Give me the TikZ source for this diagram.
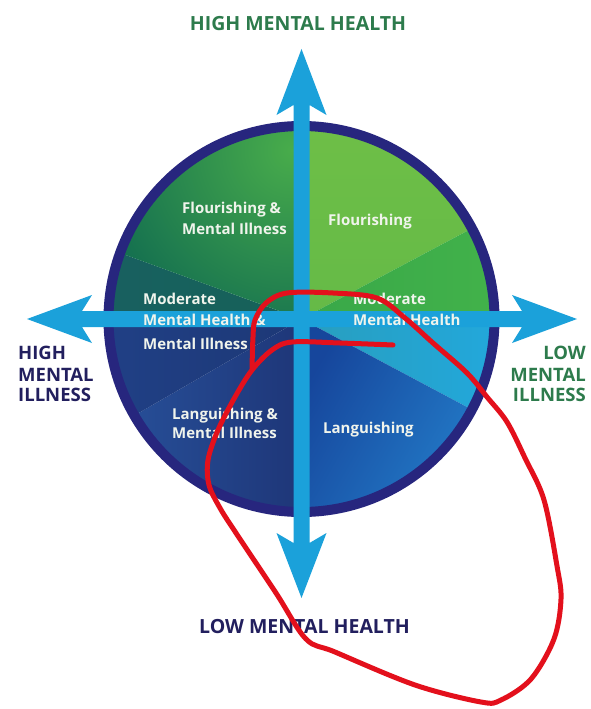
\documentclass[tikz,border=0pt]{standalone}
\usepackage{fontspec}
\setmainfont{Open Sans}
\definecolor{ringc}{HTML}{27267E}
\definecolor{arrowc}{HTML}{1BA1DA}
\definecolor{greentext}{HTML}{2D7B4C}
\definecolor{navytext}{HTML}{221F5E}
\definecolor{intext}{HTML}{F0F4EC}
\definecolor{scribble}{HTML}{E3101C}
\newcommand{\sectorpath}[2]{(C) -- ++(#1:190) arc[start angle=#1, end angle=#2, radius=190] -- cycle}
\begin{document}
\begin{tikzpicture}[x=1pt,y=-1pt,
  inlabel/.style={inner sep=0pt, anchor=base west, text=intext, font=\fontsize{15}{15}\selectfont\bfseries},
  outlabel/.style={inner sep=0pt, font=\fontsize{19.5}{19.5}\selectfont\bfseries},
  sidelabel/.style={inner sep=0pt, font=\fontsize{18.5}{18.5}\selectfont\bfseries}]
\useasboundingbox (0,0) rectangle (590,709);
\fill[white] (0,0) rectangle (590,709);
\coordinate (C) at (301.5,319);
% visual 28..90  Flourishing
\begin{scope}\clip \sectorpath{-28}{-90};
\shade[top color={rgb,255:red,110;green,191;blue,71}, bottom color={rgb,255:red,92;green,181;blue,70}] (C) circle (200);
\end{scope}
% visual 0..28
\begin{scope}\clip \sectorpath{0}{-28};
\shade[left color={rgb,255:red,48;green,158;blue,72}, right color={rgb,255:red,66;green,178;blue,74}] (111,121) rectangle (501,319);
\end{scope}
% visual -28..0
\begin{scope}\clip \sectorpath{28}{0};
\shade[left color={rgb,255:red,40;green,158;blue,190}, right color={rgb,255:red,34;green,168;blue,220}] (301,319) rectangle (501,430);
\end{scope}
% visual -90..-28 Languishing
\begin{scope}\clip \sectorpath{90}{28};
\shade[left color={rgb,255:red,22;green,70;blue,156}, right color={rgb,255:red,36;green,128;blue,204}, shading angle=60] (301,319) rectangle (501,519);
\end{scope}
% visual 210..270 Languishing & MI
\begin{scope}\clip \sectorpath{-210}{-270};
\shade[left color={rgb,255:red,40;green,82;blue,156}, right color={rgb,255:red,30;green,54;blue,120}] (101,319) rectangle (302,519);
\end{scope}
% visual 180..210
\begin{scope}\clip \sectorpath{-180}{-210};
\shade[left color={rgb,255:red,32;green,64;blue,134}, right color={rgb,255:red,29;green,56;blue,118}] (101,319) rectangle (302,430);
\end{scope}
% visual 160..180
\begin{scope}\clip \sectorpath{-160}{-180};
\shade[left color={rgb,255:red,24;green,96;blue,96}, right color={rgb,255:red,22;green,98;blue,88}] (101,240) rectangle (302,320);
\end{scope}
% visual 90..160 Flourishing & MI
\begin{scope}\clip \sectorpath{-90}{-160};
\shade[inner color={rgb,255:red,72;green,172;blue,75}, outer color={rgb,255:red,17;green,108;blue,80}] (292,150) circle (210);
\end{scope}
% outer ring
\draw[ringc, line width=10pt] (C) circle (193);
% arrows
\fill[arrowc] (301.5,49) -- (326.5,115) -- (309.5,105) -- (309.5,543) -- (326.5,533) -- (301.5,598)
  -- (276.5,533) -- (293.5,543) -- (293.5,105) -- (276.5,115) -- cycle;
\fill[arrowc] (27,319) -- (92,295) -- (82,311) -- (522,311) -- (512,295) -- (577,319)
  -- (512,343) -- (522,327) -- (82,327) -- (92,343) -- cycle;
% inner labels
\node[inlabel] (fmi1) at (182,213) {Flourishing \&};
\node[inlabel] (fmi2) at (182,234) {Mental Illness};
\node[inlabel] (fl) at (328,225) {Flourishing};
\node[inlabel] (mml1) at (143,304) {Moderate};
\node[inlabel] (mml2) at (143,325) {Mental Health \&};
\node[inlabel] (mml3) at (143,349) {Mental Illness};
\node[inlabel] (mmh1) at (353,304) {Moderate};
\node[inlabel] (mmh2) at (353,325) {Mental Health};
\node[inlabel] (lmi1) at (172,419) {Languishing \&};
\node[inlabel] (lmi2) at (172,438) {Mental Illness};
\node[inlabel] (lang) at (323,433) {Languishing};
% outer labels
\node[outlabel, text=greentext, anchor=base] (hmh) at (298,31) {HIGH MENTAL HEALTH};
\node[outlabel, text=navytext, anchor=base] (lmh) at (304.5,633) {LOW MENTAL HEALTH};
\node[sidelabel, text=navytext, anchor=base west] (hmi1) at (18,359) {HIGH};
\node[sidelabel, text=navytext, anchor=base west] (hmi2) at (18,381) {MENTAL};
\node[sidelabel, text=navytext, anchor=base west] (hmi3) at (18,401) {ILLNESS};
\node[sidelabel, text=greentext, anchor=base east] (lmi1o) at (586,359) {LOW};
\node[sidelabel, text=greentext, anchor=base east] (lmi2o) at (586,381) {MENTAL};
\node[sidelabel, text=greentext, anchor=base east] (lmi3o) at (586,401) {ILLNESS};
% red hand-drawn scribble
\draw[scribble, line width=5pt, line cap=round, line join=round] plot[smooth, tension=0.55] coordinates {
  (393,345) (340,343) (292,342) (272,350) (252,370) (235,397) (218,430) (208,460) (209,485)
  (220,508) (236,533) (276,593) (306,639) (335,652) (415,685) (481,702) (501,700) (531,679)
  (554,639) (561,599) (557,566) (544,500) (525,458) (507,422) (487,397) (467,373) (433,343)
  (405,318) (377,298) (333,293) (287,293) (266,303) (255,320) (253,337) (252,368)};
\end{tikzpicture}
\end{document}
